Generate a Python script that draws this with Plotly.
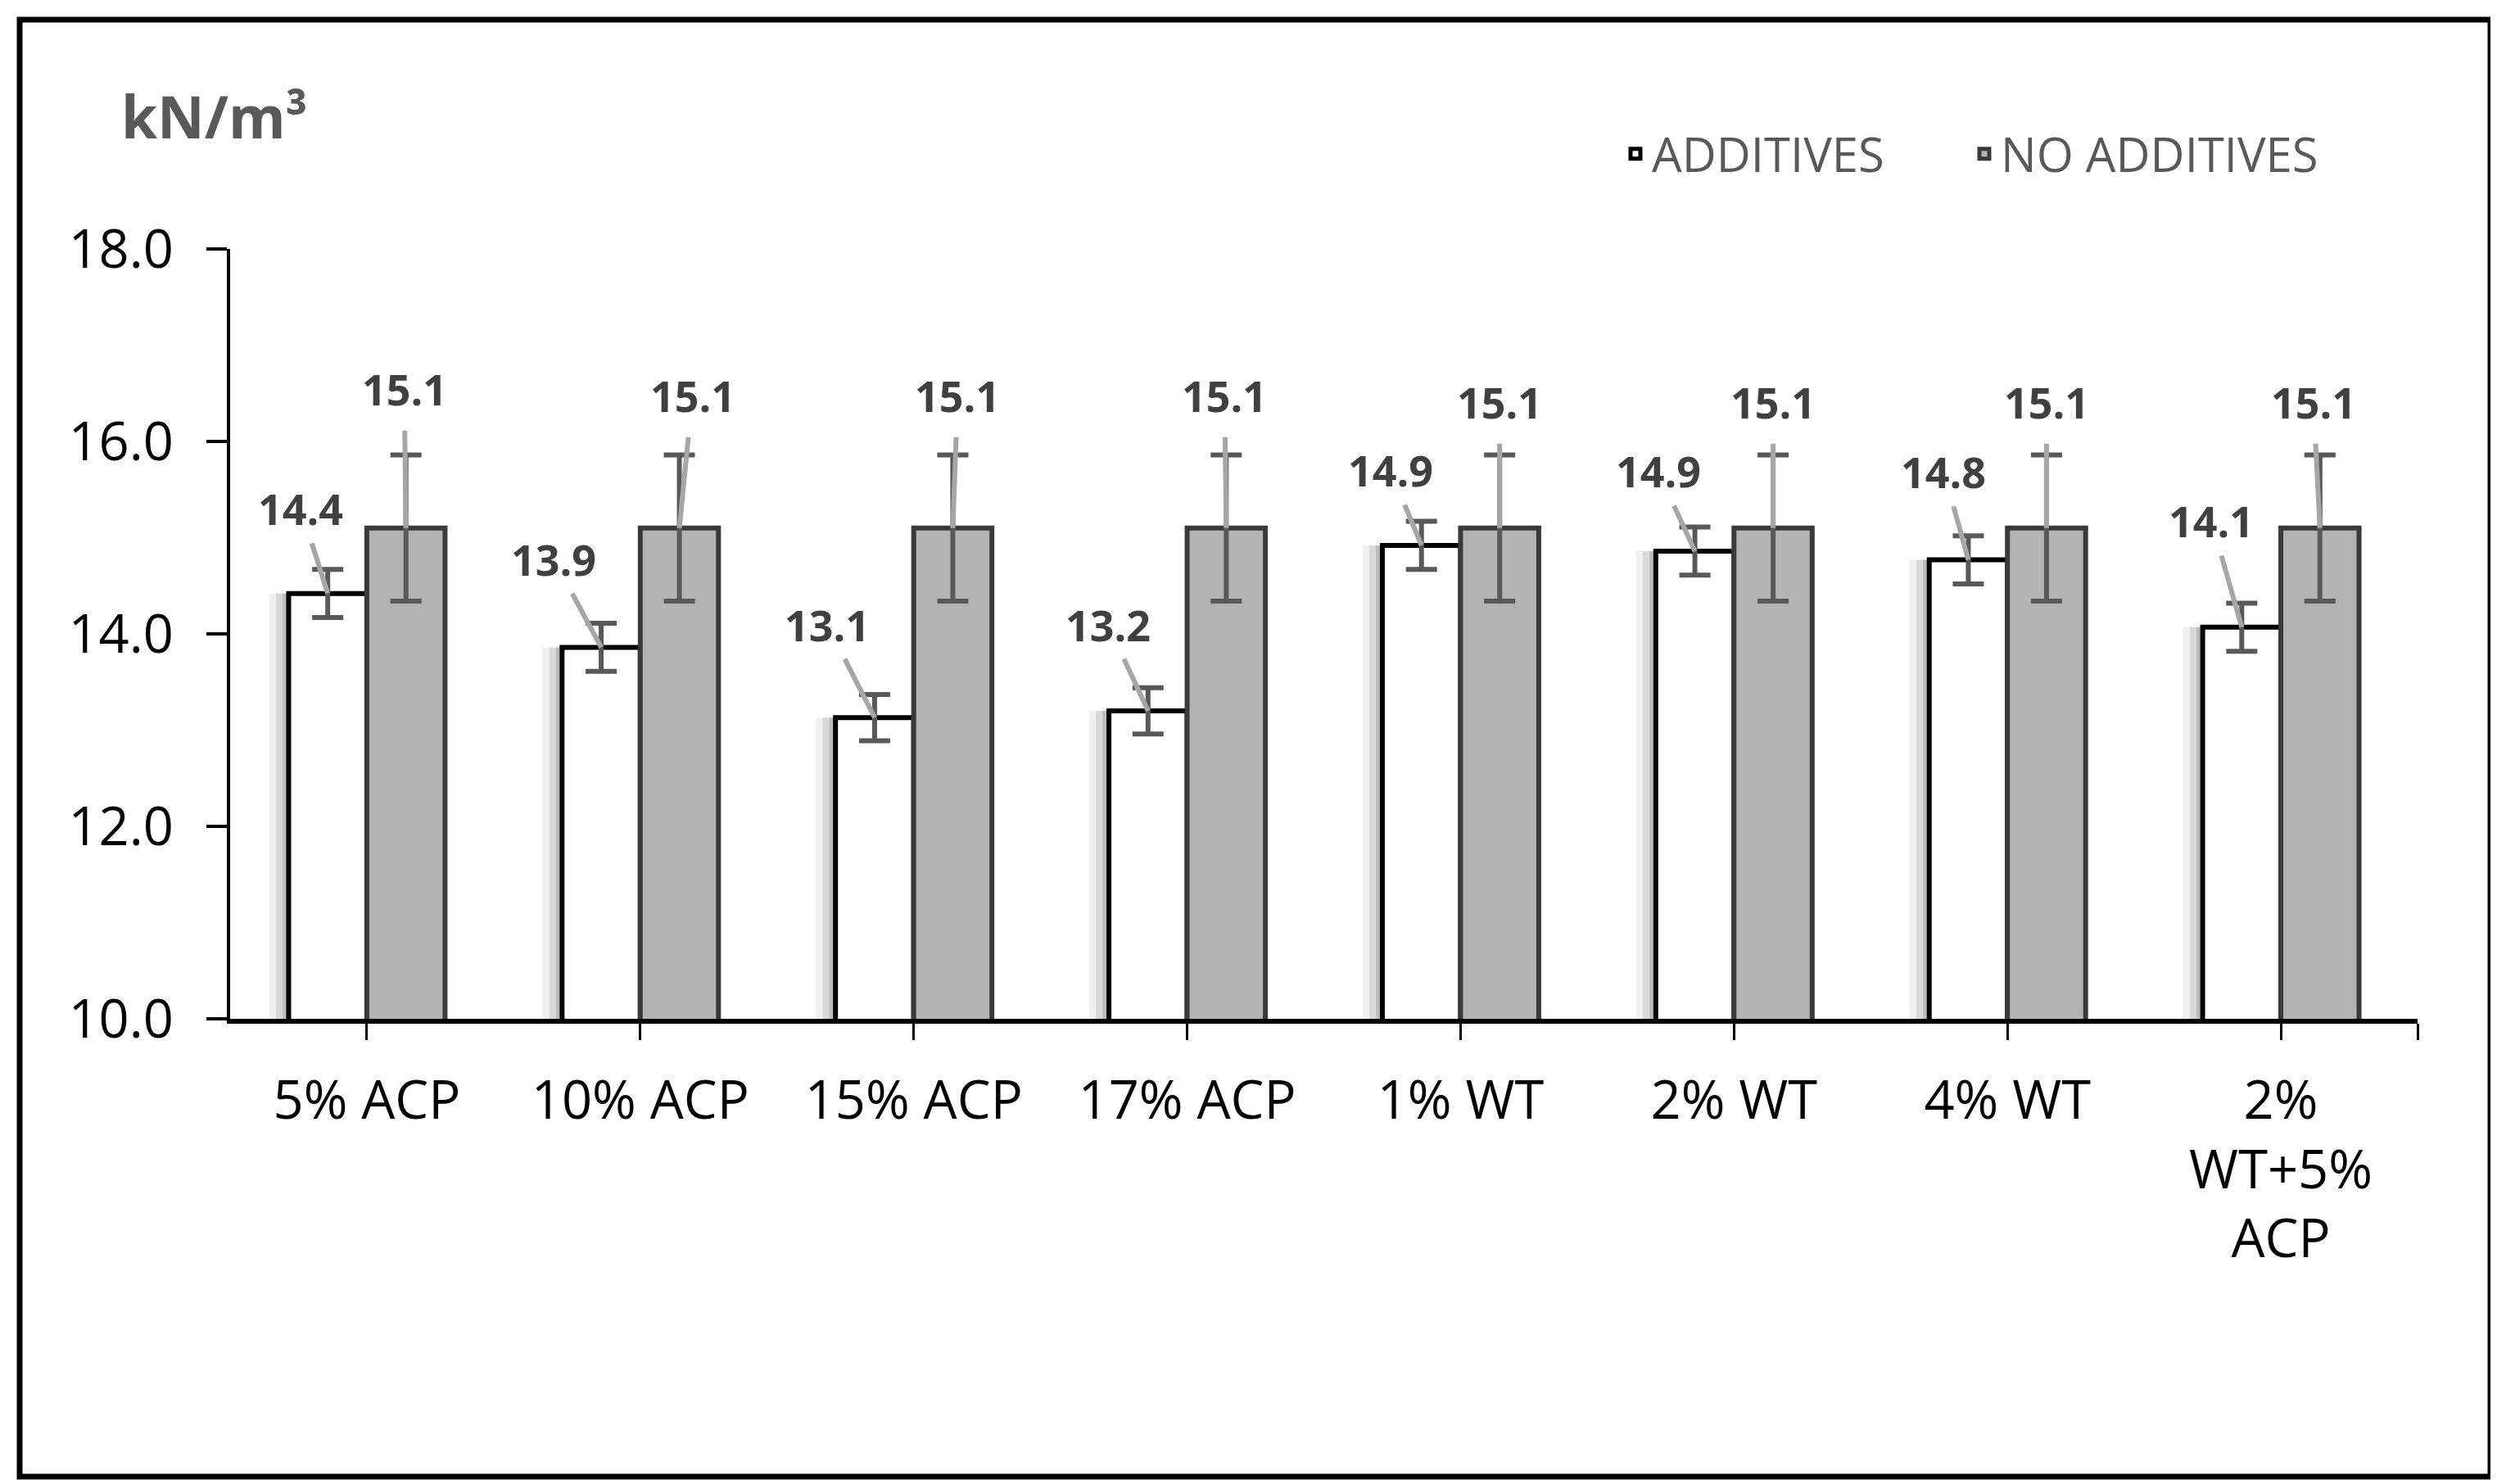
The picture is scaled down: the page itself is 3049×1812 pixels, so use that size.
import plotly.graph_objects as go

# ---------------- data ----------------
categories = ["5% ACP", "10% ACP", "15% ACP", "17% ACP",
              "1% WT", "2% WT", "4% WT", "2%<br>WT+5%<br>ACP"]
additives = [14.42, 13.86, 13.13, 13.20, 14.92, 14.86, 14.77, 14.07]
additives_err = [0.25, 0.25, 0.24, 0.24, 0.25, 0.25, 0.25, 0.25]
no_additives = [15.1, 15.1, 15.1, 15.1, 15.1, 15.1, 15.1, 15.1]
no_additives_err = [0.76, 0.76, 0.76, 0.76, 0.76, 0.76, 0.76, 0.76]
y_tick_values = [10, 12, 14, 16, 18]
series_names = ["ADDITIVES", "NO ADDITIVES"]
unit_label = "kN/m³"

# ---------------- layout / style constants (pixels) ----------------
W, H = 3049, 1812
L, R, T, B = 273, 2944, 296, 1236
BW = 0.286  # bar width in category units
FONT = "Open Sans"

# label offsets (px) of the data labels from their bar tops (leader lines)
add_label_offsets = [(-33, -104), (-58, -108), (-58, -114), (-49, -106),
                     (-38, -92), (-45, -98), (-30, -108), (-37, -130)]
noadd_label_offsets = [(-2, -170), (16, -162), (6, -162), (-2, -162),
                       (0, -154), (0, -154), (0, -154), (-8, -154)]

# soft shadow to the left of the white bars: (strip width, colour)
shadow_layers = [(0.024, "#BDBDBD"), (0.024, "#D9D9D9"), (0.024, "#F0F0F0")]


def px_x(p):
    return (p - L) / (R - L)


def px_y(p):
    return (B - p) / (B - T)


idx = list(range(len(categories)))

fig = go.Figure()

# shadow strips
acc = 0.0
for w, c in shadow_layers:
    acc += w
    fig.add_trace(go.Bar(
        x=idx, y=additives, width=w, offset=-BW - acc,
        marker=dict(color=c, line=dict(width=0)),
        showlegend=False, hoverinfo="skip",
    ))

fig.add_trace(go.Bar(
    x=idx, y=additives, width=BW, offset=-BW, name=series_names[0],
    marker=dict(color="#FFFFFF", line=dict(color="#000000", width=6)),
    error_y=dict(type="data", array=additives_err, color="#595959",
                 thickness=6, width=19),
))
fig.add_trace(go.Bar(
    x=idx, y=no_additives, width=BW, offset=0, name=series_names[1],
    marker=dict(color="#B3B3B3", line=dict(color="#3A3A3A", width=6)),
    error_y=dict(type="data", array=no_additives_err, color="#595959",
                 thickness=6, width=19),
))

annotations = []
label_font = dict(family=FONT, size=52, color="#404040", weight=700)
for i, v in enumerate(additives):
    dx, dy = add_label_offsets[i]
    annotations.append(dict(
        x=i - BW / 2, y=v, xref="x", yref="y", text=f"{v:.1f}",
        showarrow=True, arrowhead=0, arrowwidth=6, arrowcolor="#A6A6A6",
        ax=dx, ay=dy, startstandoff=6, standoff=0, font=label_font,
    ))
for i, v in enumerate(no_additives):
    dx, dy = noadd_label_offsets[i]
    annotations.append(dict(
        x=i + BW / 2, y=v, xref="x", yref="y", text=f"{v:.1f}",
        showarrow=True, arrowhead=0, arrowwidth=6, arrowcolor="#A6A6A6",
        ax=dx, ay=dy, startstandoff=14, standoff=0, font=label_font,
    ))
annotations.append(dict(
    x=px_x(138), y=px_y(134), xref="paper", yref="paper", text=unit_label,
    showarrow=False, xanchor="left", yanchor="middle",
    font=dict(family=FONT, size=71, color="#595959", weight=700),
))

fig.update_layout(
    width=W, height=H,
    margin=dict(l=L, r=W - R, t=T, b=H - B, pad=0),
    paper_bgcolor="white", plot_bgcolor="white",
    barmode="overlay",
    showlegend=True,
    legend=dict(orientation="h", x=px_x(1969), y=px_y(180),
                xanchor="left", yanchor="middle",
                entrywidth=381, entrywidthmode="pixels",
                font=dict(family=FONT, size=58, color="#595959"),
                bgcolor="rgba(0,0,0,0)", traceorder="normal"),
    annotations=annotations,
    shapes=[dict(type="rect", xref="paper", yref="paper",
                 x0=px_x(16), x1=px_x(3033), y0=px_y(1795), y1=px_y(16),
                 line=dict(color="black", width=7), layer="below")],
    xaxis=dict(range=[-0.5, len(categories) - 0.5],
               tickvals=idx + [len(categories) - 0.5],
               ticktext=categories + [""],
               showgrid=False, zeroline=False,
               showline=True, linecolor="black", linewidth=6,
               ticks="outside", ticklen=20, tickwidth=3, tickcolor="black",
               tickfont=dict(family=FONT, size=65, color="black"),
               ticklabelstandoff=18),
    yaxis=dict(range=[10, 18], tickvals=y_tick_values, tickformat=".1f",
               showgrid=False, zeroline=False,
               showline=True, linecolor="black", linewidth=4,
               ticks="outside", ticklen=25, tickwidth=4, tickcolor="black",
               tickfont=dict(family=FONT, size=65, color="black"),
               ticklabelstandoff=27),
)

fig.write_html("out.html")
